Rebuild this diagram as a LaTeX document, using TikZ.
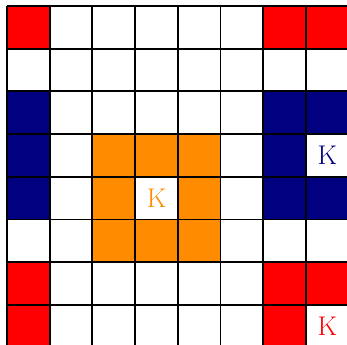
\documentclass[tikz,border=0pt]{standalone}
\begin{document}
\begin{tikzpicture}[x=1cm,y=1cm,
  gridline/.style={line width=1.3pt, black},
  redcell/.style={fill={rgb,255:red,255;green,0;blue,0}},
  navycell/.style={fill={rgb,255:red,0;green,0;blue,128}},
  orangecell/.style={fill={rgb,255:red,255;green,140;blue,0}},
  ktext/.style={font=\fontsize{18}{21}\selectfont, inner sep=0pt}]
\useasboundingbox (-0.164,0.084) rectangle (7.962,8.14);
% red cells (col,row from top)
\foreach \c/\r in {0/0,6/0,7/0,0/6,6/6,7/6,0/7,6/7}
  \path[redcell] (\c,7-\r) rectangle ++(1,1);
% navy cells
\foreach \c/\r in {0/2,6/2,7/2,0/3,6/3,0/4,6/4,7/4}
  \path[navycell] (\c,7-\r) rectangle ++(1,1);
% orange cells
\foreach \c/\r in {2/3,3/3,4/3,2/4,4/4,2/5,3/5,4/5}
  \path[orangecell] (\c,7-\r) rectangle ++(1,1);
% grid
\draw[gridline] (0,0) grid (8,8);
% labels
\node[ktext, text={rgb,255:red,255;green,140;blue,0}] (ko) at (3.5,3.5) {K};
\node[ktext, text={rgb,255:red,0;green,0;blue,128}] (kn) at (7.5,4.5) {K};
\node[ktext, text={rgb,255:red,255;green,0;blue,0}] (kr) at (7.5,0.5) {K};
\end{tikzpicture}
\end{document}
